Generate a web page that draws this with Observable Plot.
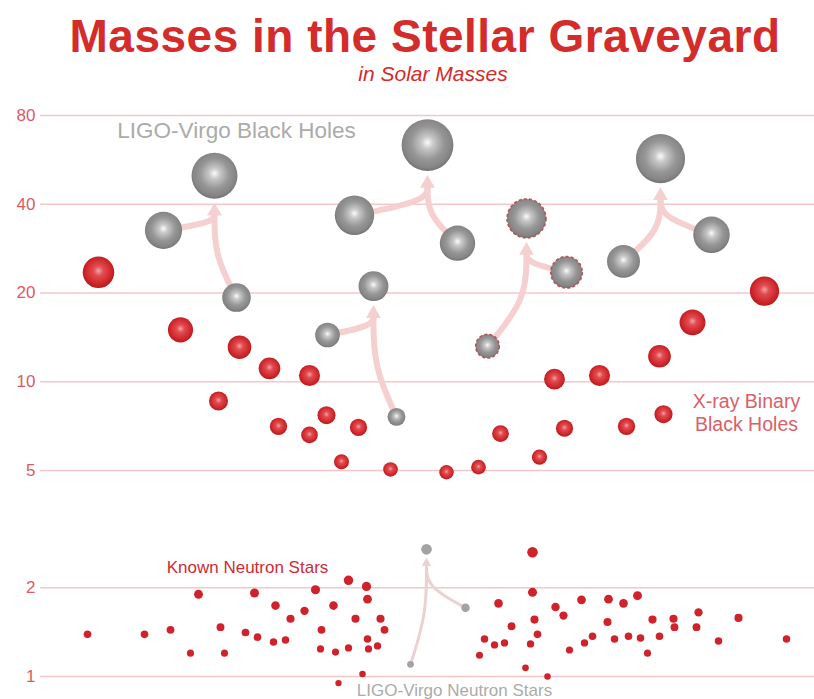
<!DOCTYPE html>
<html><head><meta charset="utf-8">
<script src="https://cdn.jsdelivr.net/npm/d3@7"></script>
<script src="https://cdn.jsdelivr.net/npm/@observablehq/plot@0.6"></script>
<style>
body{margin:0;background:#fff;font-family:"Liberation Sans",Arial,sans-serif;}
#wrap{position:relative;width:814px;height:699px;overflow:hidden;background:#fff}
#head{position:relative;height:85px}
#title{position:absolute;left:0;width:850px;top:12.6px;height:46px;text-align:center;font-weight:bold;font-size:46px;line-height:46px;letter-spacing:0.5px;color:#d42b2b;white-space:nowrap}
#sub{position:absolute;left:0;width:866px;top:62.7px;height:21px;text-align:center;font-style:italic;font-size:21px;line-height:21px;color:#d42b2b;white-space:nowrap}
#chart svg{display:block}
</style></head>
<body>
<div id="wrap">
  <div id="head">
    <div id="title">Masses in the Stellar Graveyard</div>
    <div id="sub">in Solar Masses</div>
  </div>
  <div id="chart"></div>
</div>
<script>
// ---- data (masses in solar masses; x = horizontal scatter position) ----
const yTicks = [1, 2, 5, 10, 20, 40, 80];

// X-ray binary black holes
const xrayX = [98,180,239,269,309,218,278,309,326,358,341,390,446,478,500,539,554,599,564,626,663,659,692,764];
const xrayM = [23.5,15.0,13.1,11.1,10.5,8.6,7.05,6.6,7.7,7.0,5.35,5.04,4.93,5.13,6.67,5.55,10.2,10.5,6.95,7.06,7.76,12.2,15.9,20.3];

// Known neutron stars
const nsX = [87,144,170,198,190,220,224,245,254,257,275,273,285,290,304,315,321,320,333,335,348,348,355,366,367,367,368,377,380,384,338,362,
             532,532,498,555,563,581,534,511,537,484,494,504,530,479,525,547,569,584,592,608,623,637,607,614,628,640,647,652,659,673,674,696,698,718,738,786];
const nsM = [1.39,1.39,1.44,1.90,1.20,1.47,1.20,1.41,1.92,1.36,1.74,1.31,1.33,1.57,1.67,1.97,1.44,1.24,1.74,1.21,2.12,1.25,1.57,2.02,1.83,1.34,1.24,1.27,1.57,1.44,0.95,1.02,
             2.64,1.93,1.77,1.72,1.61,1.82,1.56,1.48,1.39,1.34,1.28,1.30,1.29,1.18,1.07,1.00,1.23,1.30,1.37,1.83,1.77,1.88,1.53,1.34,1.37,1.35,1.20,1.56,1.37,1.57,1.47,1.47,1.65,1.32,1.58,1.34];

// LIGO-Virgo mergers: two parents -> final remnant
const eventName = ["GW170104","GW150914","GW151226","LVT151012","GW170814","GW170817"];
const eventKind = ["BH","BH","BH","BH","BH","NS"];
const eventCandidate = [false,false,false,true,false,false];
const p1X = [163,354,327,566,711,465];
const p1M = [32.6,36.7,14.4,23.5,31.5,1.71];
const p2X = [236,457,396,487,623,410];
const p2M = [19.3,29.5,7.6,13.2,25.6,1.10];
const finalX = [214,427,373,526,660,426];
const finalM = [50.0,63.5,21.1,35.8,57.1,2.70];

// ---- layout ----
const W = 814, H = 614, ML = 40, MT = 30, MB = 23;
const yPix = d3.scaleLog().domain([1, 80]).range([H - MB, MT]);
const rOf = d3.scaleSqrt().domain([0, 64]).range([0, 26]);

const xray = xrayX.map((x, i) => ({x, m: xrayM[i]}));
const ns = nsX.map((x, i) => ({x, m: nsM[i]}));
const ligo = [];
eventName.forEach((name, i) => {
  [[p1X[i], p1M[i]], [p2X[i], p2M[i]], [finalX[i], finalM[i]]].forEach(([x, m], j) =>
    ligo.push({name, kind: eventKind[i], cand: eventCandidate[i], role: j, x, m}));
});

// merger arrows computed from data
const curves = [], heads = [];
eventName.forEach((name, i) => {
  const isNS = eventKind[i] === "NS";
  const fx = finalX[i], fm = finalM[i];
  const gap = isNS ? 3 : 4;
  const headR = isNS ? 3.6 : 5.5;
  const hy = Math.sqrt(headR * headR * Math.PI / (Math.sqrt(3) * 3));
  const apex = yPix(fm) + rOf(fm) + gap;
  heads.push({name, ns: isNS, x: fx, m: yPix.invert(apex + 2 * hy), r: headR});
  const endY = apex + 2.6 * hy;
  [[p1X[i], p1M[i]], [p2X[i], p2M[i]]].forEach(([px, pm], j) => {
    const py = yPix(pm);
    [[px, py], [fx, (py + endY) / 2], [fx, endY]].forEach(([x, y]) =>
      curves.push({id: name + "-" + j, ns: isNS, x, m: yPix.invert(y)}));
  });
});

const FONT = "Liberation Sans, Arial, sans-serif";
const pink = "#f6cfd0";

const chart = Plot.plot({
  width: W, height: H,
  marginLeft: ML, marginRight: 0, marginTop: MT, marginBottom: MB,
  x: {domain: [ML, W], axis: null},
  y: {type: "log", domain: [1, 80], axis: null},
  r: {type: "sqrt", domain: [0, 64], range: [0, 26]},
  style: {fontFamily: FONT, background: "white"},
  marks: [
    Plot.ruleY(yTicks, {stroke: "#f4c7c9", strokeWidth: 1.4}),
    Plot.axisY(yTicks, {tickSize: 0, tickPadding: 5, fontSize: 17, fill: "#dc5a64", tickFormat: d => d, label: null}),
    // merger arrows
    Plot.line(curves.filter(d => !d.ns), {x: "x", y: "m", z: "id", curve: "basis", stroke: pink, strokeWidth: 6, strokeLinecap: "butt"}),
    Plot.line(curves.filter(d => d.ns), {x: "x", y: "m", z: "id", curve: "basis", stroke: "#ecd0d2", strokeWidth: 3, strokeLinecap: "butt"}),
    Plot.dot(heads.filter(d => !d.ns), {x: "x", y: "m", symbol: "triangle", r: 5.5, fill: pink, stroke: "none"}),
    Plot.dot(heads.filter(d => d.ns), {x: "x", y: "m", symbol: "triangle", r: 3.6, fill: "#ecd0d2", stroke: "none"}),
    // neutron stars
    Plot.dot(ns, {x: "x", y: "m", r: "m", fill: "#d0222b", stroke: "none"}),
    Plot.dot(ligo.filter(d => d.kind === "NS"), {x: "x", y: "m", r: "m", fill: "#a3a3a3", stroke: "none"}),
    // black holes
    Plot.dot(xray, {x: "x", y: "m", r: "m", fill: "url(#gRed)", stroke: "none"}),
    Plot.dot(ligo.filter(d => d.kind === "BH"), {x: "x", y: "m", r: "m", fill: "url(#gGray)", stroke: "none"}),
    Plot.dot(ligo.filter(d => d.cand), {x: "x", y: "m", r: "m", fill: "none", stroke: "#b9525c", strokeWidth: 1.6, strokeDasharray: "3 2.2"}),
    // annotations
    Plot.text(["LIGO-Virgo Black Holes"], {x: 236, y: 71, fontSize: 22.5, fill: "#ababab", fontFamily: FONT}),
    Plot.text(["X-ray Binary\nBlack Holes"], {x: 746, y: 7.9, fontSize: 19.5, lineHeight: 1.2, fill: "#d9606a", fontFamily: FONT}),
    Plot.text(["Known Neutron Stars"], {x: 247, y: 2.35, fontSize: 17, fill: "#cf2b35", fontFamily: FONT}),
    Plot.text(["LIGO-Virgo Neutron Stars"], {x: 454, y: 0.896, fontSize: 17, fill: "#ababab", fontFamily: FONT})
  ]
});

chart.insertAdjacentHTML("afterbegin", `<defs>
  <radialGradient id="gRed" cx="0.5" cy="0.47" r="0.53" fx="0.5" fy="0.45">
    <stop offset="0" stop-color="#f0a2a4"/>
    <stop offset="0.3" stop-color="#e04c50"/>
    <stop offset="0.72" stop-color="#d22a2e"/>
    <stop offset="1" stop-color="#b8191e"/>
  </radialGradient>
  <radialGradient id="gGray" cx="0.5" cy="0.47" r="0.53" fx="0.5" fy="0.45">
    <stop offset="0" stop-color="#fbfbfb"/>
    <stop offset="0.22" stop-color="#c8c8c8"/>
    <stop offset="0.6" stop-color="#969696"/>
    <stop offset="0.88" stop-color="#858585"/>
    <stop offset="1" stop-color="#727272"/>
  </radialGradient>
</defs>`);

document.getElementById("chart").appendChild(chart);
</script>
</body></html>
